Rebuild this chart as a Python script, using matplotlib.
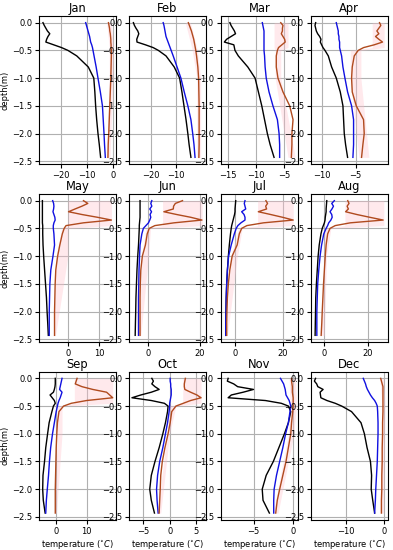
import numpy as np
import matplotlib
matplotlib.use("Agg")
import matplotlib.pyplot as plt

months = ["Jan", "Feb", "Mar", "Apr", "May", "Jun", "Jul", "Aug", "Sep", "Oct", "Nov", "Dec"]

depth = [0, -0.05, -0.1, -0.15, -0.2, -0.25, -0.3, -0.35, -0.4, -0.45, -0.5,
         -0.6, -0.8, -1.0, -1.25, -1.5, -1.75, -2.0, -2.2, -2.43]

black = {
    "Jan": [-26.9, -26.4, -25.8, -25.2, -24.3, -25.0, -25.5, -25.8, -22.8, -19.8, -17.4, -14.0, -9.6, -7.5, -7.1, -6.8, -6.4, -5.9, -5.4, -4.9],
    "Feb": [-26.7, -26.3, -25.7, -25.0, -24.6, -25.0, -25.4, -25.3, -22.0, -19.0, -17.0, -14.0, -10.8, -8.7, -7.8, -7.0, -6.2, -5.5, -5.0, -4.3],
    "Mar": [-14.7, -14.5, -14.2, -13.9, -13.7, -14.5, -15.3, -15.7, -14.0, -13.9, -13.8, -13.2, -11.5, -10.2, -9.6, -9.0, -8.5, -8.0, -7.5, -6.8],
    "Apr": [-11.0, -11.1, -11.0, -10.9, -10.7, -10.4, -10.2, -10.3, -10.1, -9.9, -9.6, -9.1, -8.6, -7.9, -7.3, -6.9, -6.8, -6.7, -6.5, -6.2],
    "May": [-8.2, -8.2, -8.2, -8.2, -8.2, -8.2, -8.2, -8.2, -8.2, -8.1, -8.1, -8.1, -8.0, -7.8, -7.5, -7.2, -6.9, -6.7, -6.5, -6.3],
    "Jun": [-3.3, -3.3, -3.3, -3.3, -3.3, -3.3, -3.3, -3.4, -3.5, -3.6, -3.6, -3.7, -3.9, -4.2, -4.5, -4.7, -4.9, -5.0, -5.1, -5.2],
    "Jul": [0.3, 0.2, 0.1, 0.0, 0.0, -0.2, -0.5, -0.8, -1.1, -1.4, -1.6, -1.9, -2.4, -2.8, -3.2, -3.5, -3.7, -3.8, -3.9, -3.9],
    "Aug": [1.1, 1.0, 0.9, 0.8, 0.8, 0.6, 0.4, 0.3, 0.0, -0.5, -1.0, -1.6, -2.4, -2.9, -3.3, -3.7, -4.0, -4.1, -4.2, -4.3],
    "Sep": [-0.2, -0.2, -0.2, -0.3, -0.5, -0.8, -1.9, -1.2, -0.5, -0.2, -0.8, -1.3, -2.2, -2.7, -3.3, -3.7, -4.2, -4.3, -4.1, -3.5],
    "Oct": [-3.4, -3.1, -3.4, -2.8, -2.0, -3.5, -5.5, -7.2, -3.5, -1.0, -0.3, -0.4, -0.8, -1.3, -2.0, -2.8, -3.5, -3.8, -3.5, -2.9],
    "Nov": [-8.2, -8.3, -7.5, -7.0, -5.0, -6.3, -7.8, -8.2, -3.5, -1.5, -0.6, -0.3, -0.6, -1.1, -1.8, -2.5, -3.4, -3.9, -3.8, -3.0],
    "Dec": [-18.0, -18.3, -17.7, -17.4, -16.0, -16.8, -16.7, -16.6, -15.0, -12.8, -11.1, -8.5, -6.0, -5.1, -4.4, -3.5, -3.2, -3.3, -2.9, -2.4],
}

blue = {
    "Jan": [-10.6, -10.3, -10.0, -9.7, -9.4, -9.1, -8.9, -8.7, -8.3, -8.0, -7.8, -7.4, -6.6, -5.9, -5.0, -4.2, -3.9, -3.6, -3.4, -3.1],
    "Feb": [-15.1, -14.8, -14.6, -14.4, -14.2, -14.0, -13.6, -13.2, -12.8, -12.4, -12.0, -11.2, -9.7, -8.2, -6.9, -5.5, -4.3, -3.6, -3.1, -2.7],
    "Mar": [-8.9, -8.8, -8.7, -8.6, -8.6, -8.6, -8.6, -8.6, -8.6, -8.6, -8.6, -8.5, -8.4, -8.2, -7.7, -7.0, -6.2, -5.9, -5.8, -5.8],
    "Apr": [-7.9, -7.8, -7.7, -7.6, -7.6, -7.5, -7.5, -7.4, -7.4, -7.4, -7.3, -7.1, -6.9, -6.6, -6.2, -5.6, -5.3, -5.3, -5.3, -5.4],
    "May": [-4.9, -4.6, -4.5, -4.6, -4.8, -4.5, -4.2, -4.1, -4.5, -4.7, -4.7, -4.5, -4.3, -4.8, -5.5, -5.8, -5.9, -6.0, -6.0, -6.0],
    "Jun": [1.3, 0.9, 1.3, 0.5, 1.2, 0.6, 0.9, 0.5, 0.0, -1.0, -2.0, -2.6, -3.3, -3.5, -3.7, -3.8, -3.9, -3.9, -3.9, -3.9],
    "Jul": [4.2, 3.9, 4.2, 4.5, 2.8, 3.8, 4.2, 4.2, 2.5, 1.2, 0.5, -0.3, -1.6, -2.7, -3.2, -3.5, -3.7, -3.8, -3.9, -3.9],
    "Aug": [4.6, 3.4, 4.2, 3.5, 2.6, 3.4, 3.6, 3.0, 2.0, 1.5, 0.8, -0.3, -1.3, -2.0, -2.6, -3.1, -3.3, -3.5, -3.5, -3.5],
    "Sep": [2.0, 1.8, 1.6, 1.4, 1.2, 2.0, 1.7, 1.4, 1.0, 0.7, 0.5, 0.1, -0.5, -1.1, -1.7, -2.1, -2.4, -2.8, -3.1, -3.3],
    "Oct": [0.1, 0.1, 0.2, 0.2, 0.3, 0.3, 0.3, 0.2, 0.1, 0.0, 0.0, -0.1, -0.4, -0.8, -1.3, -1.9, -2.3, -2.5, -2.4, -2.2],
    "Nov": [-1.6, -1.4, -1.2, -1.1, -1.0, -0.95, -0.9, -0.7, -0.5, -0.4, -0.3, -0.4, -0.6, -0.95, -1.3, -1.7, -2.1, -2.4, -2.45, -2.45],
    "Dec": [-5.4, -5.1, -4.8, -4.6, -4.3, -3.9, -3.5, -3.0, -2.4, -2.0, -1.7, -1.6, -1.5, -1.5, -1.6, -1.7, -1.9, -2.1, -2.2, -2.4],
}

brown = {
    "Jan": [-1.9, -1.7, -1.5, -1.4, -1.2, -1.1, -1.0, -1.0, -0.9, -0.9, -0.8, -0.8, -0.9, -1.0, -1.2, -1.4, -1.6, -1.8, -2.0, -2.1],
    "Feb": [-5.3, -4.9, -4.5, -4.1, -3.8, -3.5, -3.2, -3.0, -2.8, -2.6, -2.4, -2.1, -1.6, -1.3, -1.2, -1.1, -1.1, -1.1, -1.1, -1.2],
    "Mar": [-5.6, -5.2, -5.3, -5.3, -5.5, -5.2, -4.9, -4.8, -5.4, -6.0, -6.2, -6.4, -6.4, -6.1, -5.2, -4.0, -3.4, -3.6, -3.6, -3.7],
    "Apr": [-1.4, -1.2, -1.5, -1.8, -1.5, -2.0, -1.5, -0.95, -2.2, -3.8, -4.6, -5.2, -5.5, -5.6, -5.5, -4.9, -3.8, -3.7, -3.9, -4.1],
    "May": [5.0, 6.4, 4.5, 2.3, 0.2, 4.5, 9.5, 14.0, 5.0, -0.6, -1.2, -1.8, -2.6, -3.3, -3.9, -4.1, -4.2, -4.3, -4.3, -4.3],
    "Jun": [13.3, 10.5, 9.8, 9.7, 6.0, 11.0, 16.5, 20.9, 10.0, 2.5, 0.3, -0.5, -1.2, -2.4, -3.0, -3.2, -3.3, -3.3, -3.3, -3.3],
    "Jul": [13.0, 13.7, 12.9, 13.3, 9.8, 15.0, 20.0, 24.5, 12.0, 5.0, 2.8, 1.8, 0.9, -1.2, -2.2, -2.8, -3.2, -3.4, -3.5, -3.5],
    "Aug": [10.8, 11.4, 10.5, 11.1, 9.8, 15.0, 21.0, 27.2, 12.0, 5.0, 2.6, 1.5, 0.8, 0.4, 0.0, -0.4, -0.7, -1.0, -1.2, -1.5],
    "Sep": [6.9, 6.6, 6.3, 8.5, 12.0, 16.5, 17.5, 18.5, 10.0, 5.0, 2.5, 1.0, 0.5, 0.3, 0.1, 0.0, -0.1, -0.2, -0.2, -0.2],
    "Oct": [3.0, 2.9, 2.8, 2.8, 2.9, 4.0, 5.2, 6.0, 4.0, 2.6, 1.2, 0.4, 0.1, -0.3, -0.9, -1.4, -1.7, -1.8, -1.9, -2.0],
    "Nov": [-0.2, -0.2, -0.15, -0.1, -0.1, -0.1, -0.05, 0.0, 0.0, 0.0, 0.0, -0.05, -0.2, -0.3, -0.6, -0.9, -1.3, -1.7, -2.0, -2.2],
    "Dec": [-0.8, -0.6, -0.4, -0.2, -0.2, -0.2, -0.2, -0.2, -0.2, -0.2, -0.2, -0.2, -0.3, -0.3, -0.4, -0.4, -0.5, -0.5, -0.6, -0.6],
}

# light pink envelope around the brown profile
shade_depth = [0.0, -0.45, -0.5, -1.0, -2.43]
shade_lo = {
    "Jan": [-2.6, -1.6, -1.6, -1.6, -2.6], "Feb": [-6.5, -4.0, -3.8, -2.0, -2.0],
    "Mar": [-6.8, -6.8, -6.6, -6.6, -4.3], "Apr": [-2.5, -2.5, -5.8, -5.8, -4.5],
    "May": [0.0, 0.0, -2.0, -3.8, -4.6], "Jun": [5.5, 5.5, -1.0, -2.8, -3.6],
    "Jul": [9.5, 9.5, 1.5, -1.8, -3.8], "Aug": [9.5, 9.5, 0.0, 0.0, -1.8],
    "Sep": [6.0, 6.0, 0.5, 0.5, -0.5], "Oct": [2.5, 2.5, 0.0, -0.5, -2.3],
    "Nov": [-0.5, -0.4, -0.4, -0.6, -2.5], "Dec": [-1.0, -0.5, -0.5, -0.6, -1.0],
}
shade_hi = {
    "Jan": [-0.9, 0.0, 0.0, -0.2, -1.3], "Feb": [-4.5, -2.0, -1.8, -0.5, -0.5],
    "Mar": [-4.3, -4.3, -5.6, -5.6, -3.0], "Apr": [-0.7, -0.7, -4.2, -4.2, -3.0],
    "May": [14.0, 14.0, 0.0, 0.0, -4.0], "Jun": [21.0, 21.0, 0.8, 0.0, -3.0],
    "Jul": [24.5, 24.5, 3.0, 1.0, -3.2], "Aug": [27.5, 27.5, 3.0, 1.0, 0.0],
    "Sep": [18.5, 18.5, 2.0, 2.0, 0.2], "Oct": [6.0, 6.0, 1.2, 0.0, -1.7],
    "Nov": [0.3, 0.4, 0.4, 0.1, -1.9], "Dec": [0.0, 0.3, 0.3, 0.2, 0.0],
}

xlims = {
    "Jan": (-28.3, 0.9), "Feb": (-28.3, 1.5), "Mar": (-16.3, -2.6), "Apr": (-11.7, -0.2),
    "May": (-9.2, 15.4), "Jun": (-7.5, 22.4), "Jul": (-5.9, 26.3), "Aug": (-6.2, 29.2),
    "Sep": (-5.4, 19.5), "Oct": (-7.7, 6.9), "Nov": (-9.1, 0.55), "Dec": (-19.2, 1.0),
}
xticks = {
    "Jan": [-20, -10, 0], "Feb": [-20, -10], "Mar": [-15, -10, -5], "Apr": [-10, -5],
    "May": [0, 10], "Jun": [0, 20], "Jul": [0, 20], "Aug": [0, 20],
    "Sep": [0, 10], "Oct": [-5, 0, 5], "Nov": [-5, 0], "Dec": [-10, 0],
}
yticks = [0.0, -0.5, -1.0, -1.5, -2.0, -2.5]

W, H = 393, 550
fig = plt.figure(figsize=(W / 100, H / 100), dpi=100)
lefts = [39.3, 129.3, 221.0, 311.0]
tops = [16.0, 194.0, 371.7]
aw, ah = 76.5, 148.0

for i, m in enumerate(months):
    r, c = divmod(i, 4)
    ax = fig.add_axes([lefts[c] / W, 1 - (tops[r] + ah) / H, aw / W, ah / H])
    ax.fill_betweenx(shade_depth, shade_lo[m], shade_hi[m], color="#ffc0cb",
                     alpha=0.35, lw=0, zorder=1)
    ax.plot(black[m], depth, color="black", lw=1.0, zorder=3)
    ax.plot(blue[m], depth, color="#1010e0", lw=1.0, zorder=3)
    ax.plot(brown[m], depth, color="#b04a1e", lw=1.0, zorder=3)
    ax.set_xlim(*xlims[m])
    ax.set_ylim(-2.55, 0.12)
    ax.set_xticks(xticks[m])
    ax.set_yticks(yticks)
    ax.grid(True, color="#b0b0b0", lw=0.8, zorder=0)
    ax.set_axisbelow(True)
    ax.tick_params(labelsize=6, length=3, width=0.8, pad=2)
    ax.set_title(m, fontsize=8.3, pad=3)
    for s in ax.spines.values():
        s.set_linewidth(0.8)
    if c == 0:
        ax.set_ylabel("depth(m)", fontsize=6, labelpad=2)
    if r == 2:
        ax.set_xlabel(r"temperature ($^{\circ}C$)", fontsize=6, labelpad=2)

fig.savefig("out.png", dpi=100)
